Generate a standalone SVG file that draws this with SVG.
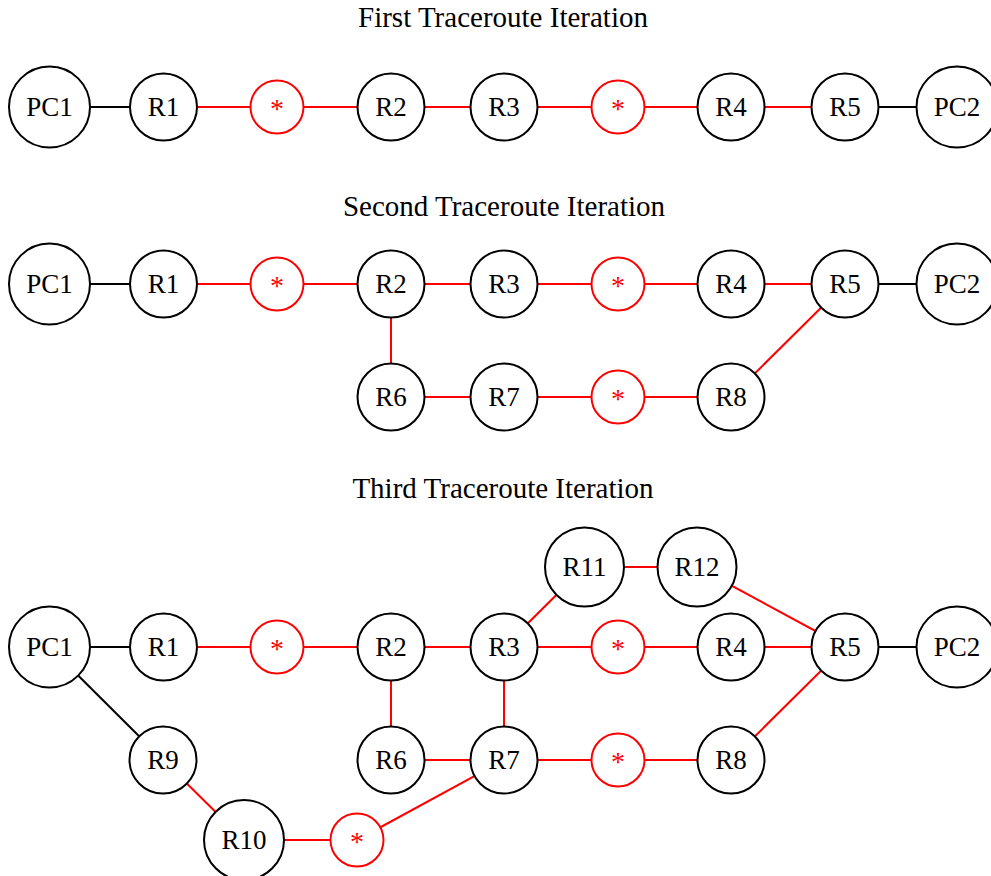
<svg xmlns="http://www.w3.org/2000/svg" width="991" height="876" viewBox="0 0 991 876">
<style>
.t{font-family:"Liberation Serif","Times New Roman",serif;font-size:29px;fill:#000;text-anchor:middle}
.n circle{fill:#fff;stroke:#000;stroke-width:2}
.n text{font-family:"Liberation Serif","Times New Roman",serif;font-size:27px;fill:#000;text-anchor:middle;dominant-baseline:central}
.s circle{fill:#fff;stroke:#f00;stroke-width:2}
.s text{font-family:"Liberation Serif","Times New Roman",serif;font-size:28px;fill:#f00;text-anchor:middle}
.k{stroke:#000;stroke-width:2;fill:none}
.r{stroke:#f00;stroke-width:2;fill:none}
</style>
<rect width="991" height="876" fill="#fff"/>
<text class="t" x="503" y="27">First Traceroute Iteration</text>
<text class="t" x="504" y="216">Second Traceroute Iteration</text>
<text class="t" x="503" y="498">Third Traceroute Iteration</text>
<g id="connectors">
<line class="k" x1="49.5" y1="107" x2="163.5" y2="107"/>
<line class="r" x1="163.5" y1="107" x2="731" y2="107"/>
<line class="r" x1="731" y1="107" x2="845" y2="107"/>
<line class="k" x1="845" y1="107" x2="957" y2="107"/>
<line class="k" x1="49.5" y1="284" x2="163.5" y2="284"/>
<line class="r" x1="163.5" y1="284" x2="845" y2="284"/>
<line class="k" x1="845" y1="284" x2="957" y2="284"/>
<line class="r" x1="391" y1="284" x2="391" y2="397"/>
<line class="r" x1="391" y1="397" x2="731" y2="397"/>
<line class="r" x1="731" y1="397" x2="845" y2="284"/>
<line class="k" x1="49.5" y1="647" x2="163.5" y2="647"/>
<line class="r" x1="163.5" y1="647" x2="845" y2="647"/>
<line class="k" x1="845" y1="647" x2="957" y2="647"/>
<line class="r" x1="391" y1="647" x2="391" y2="760"/>
<line class="r" x1="504" y1="647" x2="504" y2="760"/>
<line class="r" x1="391" y1="760" x2="731" y2="760"/>
<line class="r" x1="731" y1="760" x2="845" y2="647"/>
<line class="r" x1="504" y1="647" x2="584.5" y2="567"/>
<line class="r" x1="584.5" y1="567" x2="697" y2="567"/>
<line class="r" x1="697" y1="567" x2="845" y2="647"/>
<line class="k" x1="49.5" y1="647" x2="163" y2="760"/>
<line class="r" x1="163" y1="760" x2="244" y2="840"/>
<line class="r" x1="244" y1="840" x2="357" y2="840"/>
<line class="r" x1="357" y1="840" x2="504" y2="760"/>
</g>
<g id="it1-PC1" class="n"><circle cx="49.5" cy="107" r="40.5"/><text x="49.5" y="107">PC1</text></g>
<g id="it1-R1" class="n"><circle cx="163.5" cy="107" r="33.5"/><text x="163.5" y="107">R1</text></g>
<g id="it1-S1" class="s"><circle cx="277" cy="107" r="26.5"/><text x="277" y="118">*</text></g>
<g id="it1-R2" class="n"><circle cx="391" cy="107" r="33.5"/><text x="391" y="107">R2</text></g>
<g id="it1-R3" class="n"><circle cx="504" cy="107" r="33.5"/><text x="504" y="107">R3</text></g>
<g id="it1-S2" class="s"><circle cx="618" cy="107" r="26.5"/><text x="618" y="118">*</text></g>
<g id="it1-R4" class="n"><circle cx="731" cy="107" r="33.5"/><text x="731" y="107">R4</text></g>
<g id="it1-R5" class="n"><circle cx="845" cy="107" r="33.5"/><text x="845" y="107">R5</text></g>
<g id="it1-PC2" class="n"><circle cx="957" cy="107" r="40.5"/><text x="957" y="107">PC2</text></g>

<g id="it2-PC1" class="n"><circle cx="49.5" cy="284" r="40.5"/><text x="49.5" y="284">PC1</text></g>
<g id="it2-R1" class="n"><circle cx="163.5" cy="284" r="33.5"/><text x="163.5" y="284">R1</text></g>
<g id="it2-S1" class="s"><circle cx="277" cy="284" r="26.5"/><text x="277" y="295">*</text></g>
<g id="it2-R2" class="n"><circle cx="391" cy="284" r="33.5"/><text x="391" y="284">R2</text></g>
<g id="it2-R3" class="n"><circle cx="504" cy="284" r="33.5"/><text x="504" y="284">R3</text></g>
<g id="it2-S2" class="s"><circle cx="618" cy="284" r="26.5"/><text x="618" y="295">*</text></g>
<g id="it2-R4" class="n"><circle cx="731" cy="284" r="33.5"/><text x="731" y="284">R4</text></g>
<g id="it2-R5" class="n"><circle cx="845" cy="284" r="33.5"/><text x="845" y="284">R5</text></g>
<g id="it2-PC2" class="n"><circle cx="957" cy="284" r="40.5"/><text x="957" y="284">PC2</text></g>
<g id="it2-R6" class="n"><circle cx="391" cy="397" r="33.5"/><text x="391" y="397">R6</text></g>
<g id="it2-R7" class="n"><circle cx="504" cy="397" r="33.5"/><text x="504" y="397">R7</text></g>
<g id="it2-S3" class="s"><circle cx="618" cy="397" r="26.5"/><text x="618" y="408">*</text></g>
<g id="it2-R8" class="n"><circle cx="731" cy="397" r="33.5"/><text x="731" y="397">R8</text></g>

<g id="it3-PC1" class="n"><circle cx="49.5" cy="647" r="40.5"/><text x="49.5" y="647">PC1</text></g>
<g id="it3-R1" class="n"><circle cx="163.5" cy="647" r="33.5"/><text x="163.5" y="647">R1</text></g>
<g id="it3-S1" class="s"><circle cx="277" cy="647" r="26.5"/><text x="277" y="658">*</text></g>
<g id="it3-R2" class="n"><circle cx="391" cy="647" r="33.5"/><text x="391" y="647">R2</text></g>
<g id="it3-R3" class="n"><circle cx="504" cy="647" r="33.5"/><text x="504" y="647">R3</text></g>
<g id="it3-S2" class="s"><circle cx="618" cy="647" r="26.5"/><text x="618" y="658">*</text></g>
<g id="it3-R4" class="n"><circle cx="731" cy="647" r="33.5"/><text x="731" y="647">R4</text></g>
<g id="it3-R5" class="n"><circle cx="845" cy="647" r="33.5"/><text x="845" y="647">R5</text></g>
<g id="it3-PC2" class="n"><circle cx="957" cy="647" r="40.5"/><text x="957" y="647">PC2</text></g>
<g id="it3-R6" class="n"><circle cx="391" cy="760" r="33.5"/><text x="391" y="760">R6</text></g>
<g id="it3-R7" class="n"><circle cx="504" cy="760" r="33.5"/><text x="504" y="760">R7</text></g>
<g id="it3-S3" class="s"><circle cx="618" cy="760" r="26.5"/><text x="618" y="771">*</text></g>
<g id="it3-R8" class="n"><circle cx="731" cy="760" r="33.5"/><text x="731" y="760">R8</text></g>
<g id="it3-R11" class="n"><circle cx="584.5" cy="567" r="39.5"/><text x="584.5" y="567">R11</text></g>
<g id="it3-R12" class="n"><circle cx="697" cy="567" r="39.5"/><text x="697" y="567">R12</text></g>
<g id="it3-R9" class="n"><circle cx="163" cy="760" r="33.5"/><text x="163" y="760">R9</text></g>
<g id="it3-R10" class="n"><circle cx="244" cy="840" r="40"/><text x="244" y="840">R10</text></g>
<g id="it3-S4" class="s"><circle cx="357" cy="840" r="26.5"/><text x="357" y="851">*</text></g>
</svg>
